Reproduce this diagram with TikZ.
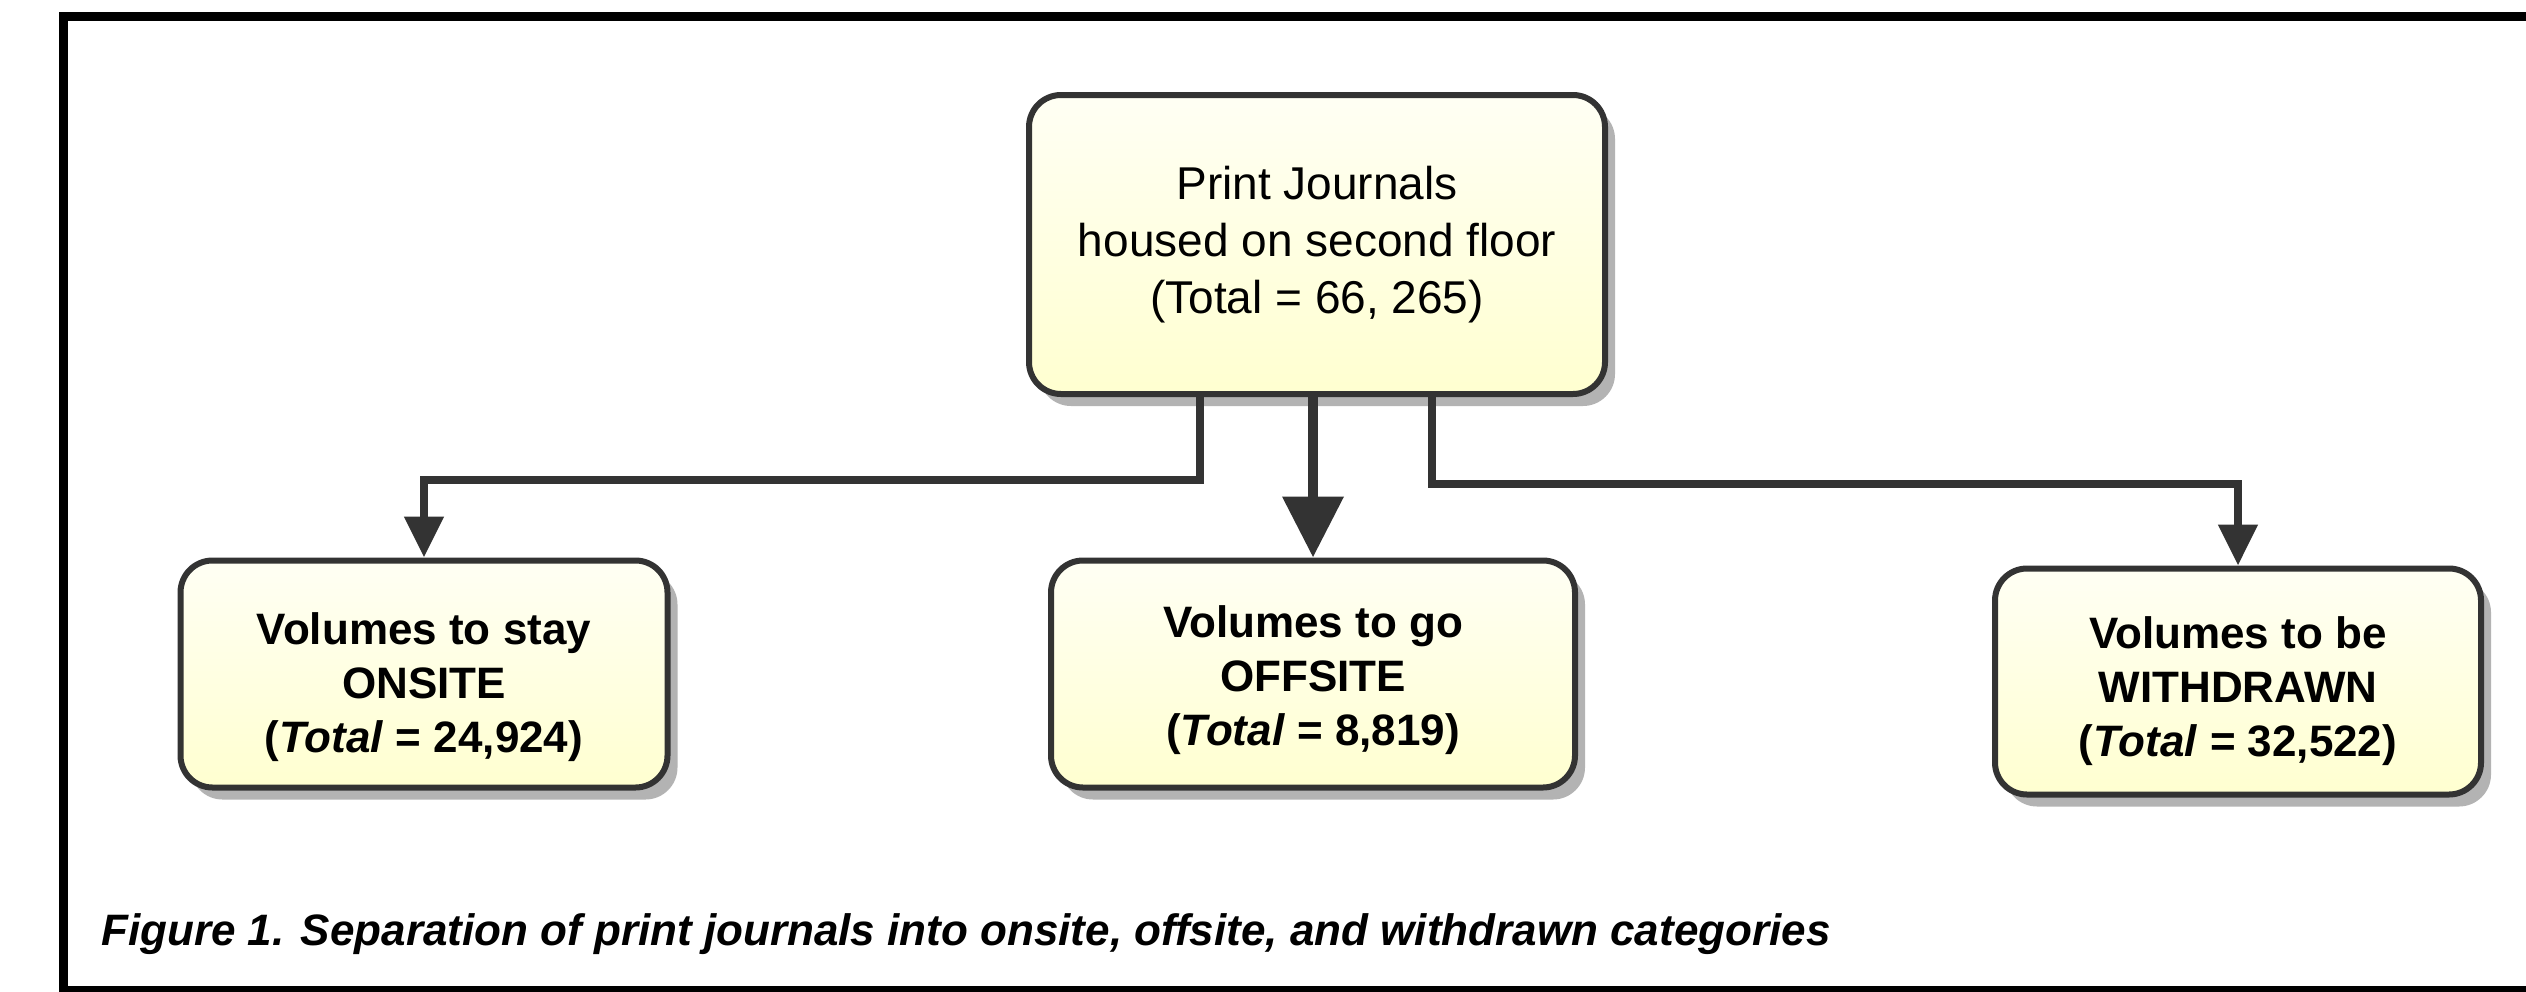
\documentclass[tikz,border=0pt]{standalone}
\usepackage{fontspec}
\setmainfont{Liberation Sans}
\usetikzlibrary{arrows.meta,shadows}
\definecolor{edgegray}{HTML}{333333}
\definecolor{shadegray}{HTML}{B3B3B3}
\definecolor{filltop}{HTML}{FFFFF4}
\definecolor{fillbot}{HTML}{FFFFD0}
\begin{document}
\begin{tikzpicture}[x=1pt,y=-1pt,
  box/.style={draw=edgegray, line width=6pt, rounded corners=32pt,
    top color=filltop, bottom color=fillbot, inner sep=0pt, align=center,
    drop shadow={shadow xshift=10pt, shadow yshift=-12pt, fill=shadegray, opacity=1}},
  topfont/.style={font=\fontsize{46}{57}\selectfont},
  lowtext/.style={inner sep=0pt, align=center, font=\fontsize{44}{54}\selectfont\bfseries},
  conn/.style={draw=edgegray, line width=8pt, -{Triangle[width=38pt,length=41pt]}},
  mainconn/.style={draw=edgegray, line width=10.5pt, -{Triangle[width=59pt,length=61pt]}}
]
\useasboundingbox (0,0) rectangle (2526,991);
\fill[white] (0,0) rectangle (2526,991);
% frame
\draw[line width=8.5pt, black] (2540,16.5) -- (63.25,16.5) -- (63.25,990) -- (2540,990);

\node[box, topfont, minimum width=576pt, minimum height=299pt] (top) at (1317,244.5)
  {Print Journals\\housed on second floor\\(Total = 66, 265)};
\node[box, minimum width=487pt, minimum height=227pt] (onsite) at (424,674) {};
\node[box, minimum width=524pt, minimum height=227pt] (offsite) at (1313,674) {};
\node[box, minimum width=486pt, minimum height=226pt] (withdrawn) at (2238,681.5) {};

\node[lowtext] (onsitetext) at ([yshift=-13pt]onsite.center)
  {Volumes to stay\\ONSITE\\(\textit{Total} = 24,924)};
\node[lowtext] (offsitetext) at ([yshift=-6pt]offsite.center)
  {Volumes to go\\OFFSITE\\(\textit{Total} = 8,819)};
\node[lowtext] (withdrawntext) at ([yshift=-10pt]withdrawn.center)
  {Volumes to be\\WITHDRAWN\\(\textit{Total} = 32,522)};

\draw[conn] ([xshift=-117pt]top.south) -- ++(0,83) -| (onsite.north);
\draw[mainconn] (top.south -| offsite.north) -- (offsite.north);
\draw[conn] ([xshift=115pt]top.south) -- ++(0,87) -| (withdrawn.north);

\node[anchor=west, inner sep=0pt, font=\fontsize{44}{50}\selectfont\bfseries\itshape] (caption) at (101,934)
  {Figure 1. Separation of print journals into onsite, offsite, and withdrawn categories};
\end{tikzpicture}
\end{document}
